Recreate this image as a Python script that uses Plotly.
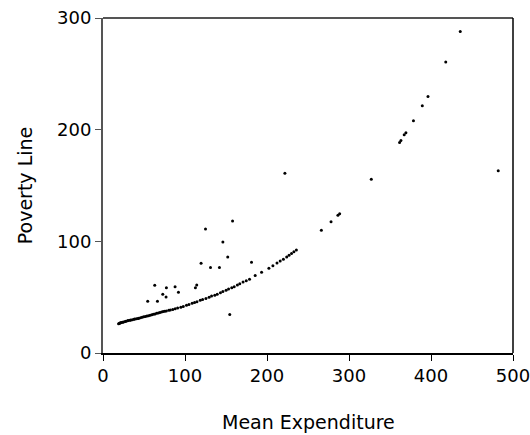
import plotly.graph_objects as go

# Main curve (mean expenditure vs poverty line)
curve_x = [19.0, 19.8, 20.6, 21.6, 22.4, 24.0, 25.0, 27.0, 28.0, 29.9, 30.9, 32.9, 33.9, 35.8,
           37.8, 38.8, 40.8, 42.7, 43.7, 45.7, 47.7, 49.6, 51.6, 53.6, 55.5, 57.5, 59.5, 61.4,
           63.4, 65.4, 67.4, 69.3, 71.3, 73.3, 75.2, 77.2, 80.2, 82.1, 85.1, 88.0, 91.0, 94.9,
           97.9, 101.8, 104.8, 108.7, 111.7, 114.6, 118.6, 121.5, 125.5, 129.4, 132.4, 136.3,
           139.3, 143.2, 146.2, 150.1, 153.1, 157.0, 160.0, 163.9, 166.8, 170.8, 174.7, 178.7,
           185.6, 193.4, 202.3, 207.2, 212.2, 216.1, 220.0, 224.0, 226.9, 229.9, 232.8, 235.8,
           266.3, 278.1, 286.5, 288.6, 361.7, 363.3, 367.3, 369.4, 378.6, 389.4, 396.3, 418.0,
           435.7]
curve_y = [26.2, 26.5, 26.8, 27.1, 27.3, 27.6, 27.8, 28.2, 28.4, 28.8, 29.0, 29.3, 29.5, 29.8,
           30.2, 30.4, 30.7, 31.0, 31.2, 31.6, 32.0, 32.4, 32.7, 33.1, 33.4, 33.8, 34.2, 34.6,
           35.0, 35.5, 35.9, 36.3, 36.7, 37.1, 37.4, 37.7, 38.2, 38.5, 39.0, 39.6, 40.2, 40.9,
           41.6, 42.7, 43.5, 44.6, 45.3, 46.0, 47.2, 47.8, 48.7, 50.0, 51.0, 51.8, 52.6, 53.9,
           55.0, 56.3, 57.3, 58.4, 59.4, 60.9, 62.1, 63.5, 64.8, 66.0, 69.3, 72.4, 75.8, 78.2,
           80.6, 82.3, 83.9, 86.0, 87.5, 89.0, 90.6, 92.2,
           110, 117.6, 123.3, 124.8, 188.6, 190.4, 195.5, 197.3, 208, 221.5, 229.8, 260.5, 288]

# Off-curve observations
other_x = [221.8, 327.2, 482.0, 158.0, 125.0, 146.2, 152.1, 119.6, 131.1, 142.0, 181.1, 63.1,
           77.3, 87.9, 72.9, 76.9, 92.0, 54.5, 66.4, 112.7, 114.3, 154.6]
other_y = [161, 155.5, 163.3, 118.2, 111, 99.4, 86, 80.3, 76.5, 76.5, 81.2, 60.6, 58.5,
           59.4, 52.6, 50.1, 54.3, 46.3, 46.3, 58.5, 60.9, 34.4]

x_ticks = [0, 100, 200, 300, 400, 500]
y_ticks = [0, 100, 200, 300]

x_title = "Mean Expenditure"
y_title = "Poverty Line"

fig = go.Figure()
fig.add_trace(go.Scatter(x=curve_x + other_x, y=curve_y + other_y, mode="markers",
                         marker=dict(color="black", size=3), showlegend=False,
                         hoverinfo="skip"))

font = dict(family="DejaVu Sans, sans-serif", size=18, color="black")
title_font = dict(family="DejaVu Sans, sans-serif", size=19, color="black")
fig.update_layout(
    width=530, height=435,
    margin=dict(l=103, r=17, t=18, b=82, autoexpand=False),
    paper_bgcolor="white", plot_bgcolor="white",
    font=font,
    xaxis=dict(range=[0, 500], tickvals=x_ticks, ticks="outside", ticklen=6,
               tickcolor="black", tickwidth=1, showgrid=False, zeroline=False,
               showline=True, linecolor="black", linewidth=1.5, automargin=False,
               ticklabeloverflow="allow"),
    yaxis=dict(range=[0, 300], tickvals=y_ticks, ticks="outside", ticklen=6,
               tickcolor="#555", tickwidth=1, showgrid=False, zeroline=False,
               showline=True, linecolor="#555", linewidth=2, automargin=False,
               ticklabeloverflow="allow",
               title=dict(text=y_title, standoff=19, font=title_font)),
    shapes=[
        dict(type="line", xref="x domain", yref="y domain", x0=0, x1=1, y0=1, y1=1,
             line=dict(color="#555", width=2)),
        dict(type="line", xref="x domain", yref="y domain", x0=1, x1=1, y0=0, y1=1,
             line=dict(color="black", width=1.5)),
    ],
    annotations=[
        dict(text=x_title, xref="x domain", yref="y domain", x=0.5, y=-0.205,
             xanchor="center", yanchor="middle", showarrow=False, font=title_font),
    ],
)
# remove the page's default body margin so the 530x435 figure fills the window
fig.write_html("out.html", config={"displayModeBar": False},
               post_script="document.body.style.margin='0';")
